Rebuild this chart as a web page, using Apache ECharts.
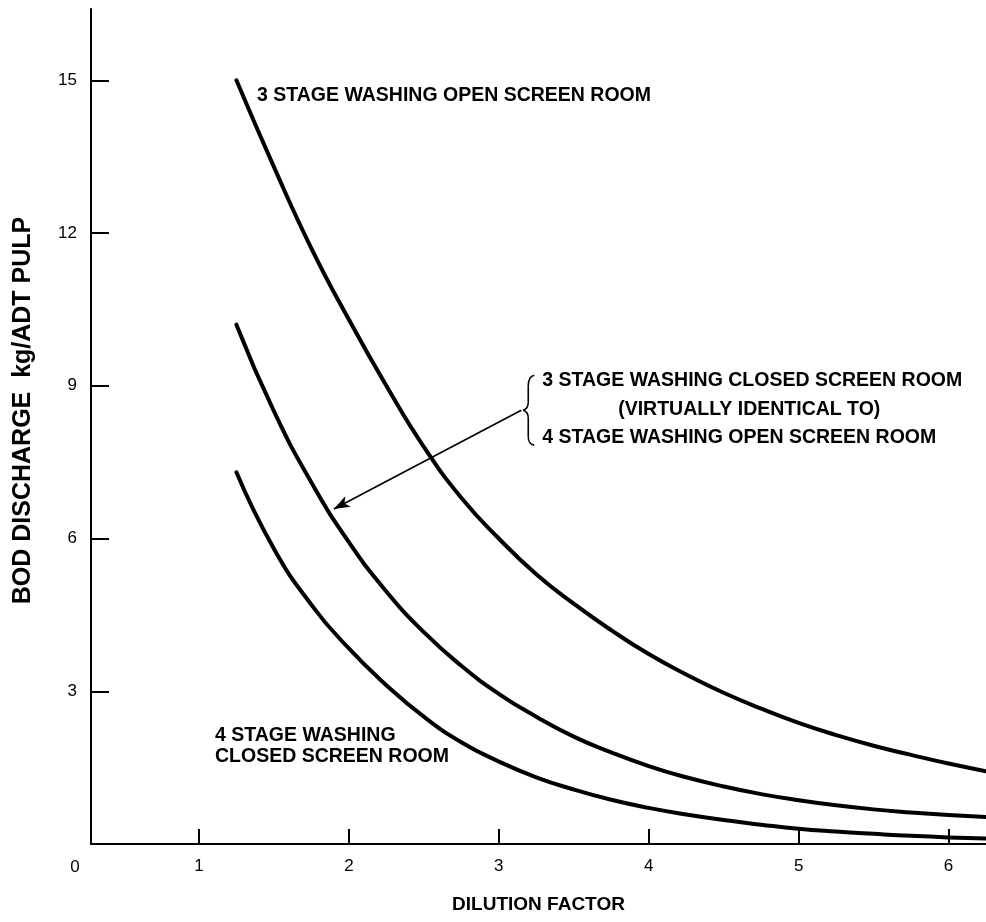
<!DOCTYPE html>
<html>
<head>
<meta charset="utf-8">
<script src="https://cdn.jsdelivr.net/npm/echarts@6/dist/echarts.min.js"></script>
<style>
  html, body { margin: 0; padding: 0; background: #fff; }
  #chart { width: 986px; height: 922px; }
</style>
</head>
<body>
<div id="chart"></div>
<script>
// Axis tick positions
const xTicks = [1, 2, 3, 4, 5, 6];
const yTicks = [3, 6, 9, 12, 15];

// Dilution factors at which the curves are sampled
const dilution = [1.25, 1.5, 1.75, 2.0, 2.25, 2.5, 2.75, 3.0, 3.25, 3.5, 3.75,
                  4.0, 4.25, 4.5, 4.75, 5.0, 5.25, 5.5, 5.75, 6.0, 6.25];

// BOD discharge, kg/ADT pulp
// 3 stage washing, open screen room
const open3 = [15.0, 13.3, 11.7, 10.3, 9.0, 7.8, 6.8, 6.0, 5.3, 4.72, 4.2,
               3.73, 3.33, 2.97, 2.66, 2.38, 2.14, 1.93, 1.75, 1.58, 1.43];
// 3 stage closed screen room (virtually identical to 4 stage open screen room)
const closed3 = [10.2, 8.5, 7.1, 5.93, 4.96, 4.16, 3.5, 2.95, 2.5, 2.11, 1.8,
                 1.53, 1.31, 1.13, 0.98, 0.86, 0.76, 0.68, 0.62, 0.57, 0.53];
// 4 stage washing, closed screen room
const closed4 = [7.3, 5.8, 4.7, 3.84, 3.12, 2.5, 2.0, 1.62, 1.31, 1.07, 0.87,
                 0.71, 0.58, 0.47, 0.38, 0.30, 0.245, 0.2, 0.16, 0.13, 0.11];

// Arrow from the bracket to the middle curve (data coordinates)
const arrowFrom = [3.15, 8.52];
const arrowTo = [1.9, 6.58];

const FONT = 'Liberation Sans';
const INK = '#000';

function pairs(xs, ys) { return xs.map((x, i) => [x, ys[i]]); }

function curve(name, ys, extra) {
  return Object.assign({
    name: name,
    type: 'line',
    data: pairs(dilution, ys),
    smooth: 0.5,
    symbol: 'none',
    lineStyle: { color: INK, width: 4, cap: 'round', join: 'round' },
    itemStyle: { color: INK },
    silent: true,
    clip: true
  }, extra || {});
}

const chart = echarts.init(document.getElementById('chart'), null, { renderer: 'canvas' });

chart.setOption({
  animation: false,
  backgroundColor: '#fff',
  grid: { left: 91, right: 0, top: 9, bottom: 78 },
  xAxis: {
    type: 'value',
    min: 0.28,
    max: 6.25,
    name: 'DILUTION FACTOR',
    nameLocation: 'middle',
    nameGap: 51,
    nameTextStyle: { fontFamily: FONT, fontWeight: 'bold', fontSize: 19, color: INK },
    axisLine: { show: true, onZero: false, lineStyle: { color: INK, width: 2 } },
    axisTick: { show: true, inside: true, length: 15, customValues: xTicks, lineStyle: { color: INK, width: 2 } },
    axisLabel: { customValues: xTicks, margin: 14, fontFamily: FONT, fontSize: 17, color: INK },
    splitLine: { show: false }
  },
  yAxis: {
    type: 'value',
    min: 0,
    max: 16.4,
    name: 'BOD DISCHARGE  kg/ADT PULP',
    nameLocation: 'middle',
    nameGap: 55,
    nameTextStyle: { fontFamily: FONT, fontWeight: 'bold', fontSize: 25, color: INK, padding: [0, 0, 0, 32] },
    axisLine: { show: true, onZero: false, lineStyle: { color: INK, width: 2 } },
    axisTick: { show: true, inside: true, length: 18, customValues: yTicks, lineStyle: { color: INK, width: 2 } },
    axisLabel: { customValues: yTicks, margin: 14, fontFamily: FONT, fontSize: 17, color: INK },
    splitLine: { show: false }
  },
  series: [
    curve('3 STAGE WASHING OPEN SCREEN ROOM', open3),
    curve('3 STAGE WASHING CLOSED SCREEN ROOM', closed3, {
      markLine: {
        silent: true,
        symbol: ['none', 'arrow'],
        symbolSize: [9, 16],
        label: { show: false },
        lineStyle: { color: INK, width: 1.6, type: 'solid' },
        emphasis: { disabled: true },
        data: [[{ coord: arrowFrom }, { coord: arrowTo }]]
      }
    }),
    curve('4 STAGE WASHING CLOSED SCREEN ROOM', closed4)
  ]
});

// Annotations placed relative to the plot
const corner = chart.convertToPixel({ gridIndex: 0 }, [0.28, 0]);
const tip = chart.convertToPixel({ gridIndex: 0 }, arrowFrom);

function label(text, x, y, align) {
  return {
    type: 'text', x: x, y: y, silent: true,
    style: {
      text: text, fill: INK, align: align || 'left', verticalAlign: 'middle',
      fontFamily: FONT, fontWeight: 'bold', fontSize: 19.5
    }
  };
}

const bx = tip[0] + 2, by = tip[1];
const braceStyle = { stroke: INK, lineWidth: 1.6, fill: null };
const brace = [
  { type: 'bezierCurve', shape: { x1: bx + 11, y1: by - 35, cpx1: bx + 6, cpy1: by - 34, cpx2: bx + 5, cpy2: by - 30, x2: bx + 5, y2: by - 24 }, style: braceStyle },
  { type: 'line', shape: { x1: bx + 5, y1: by - 24, x2: bx + 5, y2: by - 8 }, style: braceStyle },
  { type: 'bezierCurve', shape: { x1: bx + 5, y1: by - 8, cpx1: bx + 5, cpy1: by - 3, cpx2: bx + 3, cpy2: by - 1, x2: bx, y2: by }, style: braceStyle },
  { type: 'bezierCurve', shape: { x1: bx, y1: by, cpx1: bx + 3, cpy1: by + 1, cpx2: bx + 5, cpy2: by + 3, x2: bx + 5, y2: by + 8 }, style: braceStyle },
  { type: 'line', shape: { x1: bx + 5, y1: by + 8, x2: bx + 5, y2: by + 26 }, style: braceStyle },
  { type: 'bezierCurve', shape: { x1: bx + 5, y1: by + 26, cpx1: bx + 5, cpy1: by + 31, cpx2: bx + 6, cpy2: by + 34, x2: bx + 11, y2: by + 35 }, style: braceStyle }
];

chart.setOption({
  graphic: [
    {
      type: 'text', x: corner[0] - 16, y: corner[1] + 23, silent: true,
      style: { text: '0', fill: INK, align: 'center', verticalAlign: 'middle', fontFamily: FONT, fontSize: 17 }
    },
    label('3 STAGE WASHING OPEN SCREEN ROOM', 257, 96),
    label('3 STAGE WASHING CLOSED SCREEN ROOM', bx + 19, by - 30),
    label('(VIRTUALLY IDENTICAL TO)', bx + 226, by - 1, 'center'),
    label('4 STAGE WASHING OPEN SCREEN ROOM', bx + 19, by + 27),
    label('4 STAGE WASHING', 215, 736),
    label('CLOSED SCREEN ROOM', 215, 757),
    { type: 'group', silent: true, children: brace }
  ]
});
</script>
</body>
</html>
